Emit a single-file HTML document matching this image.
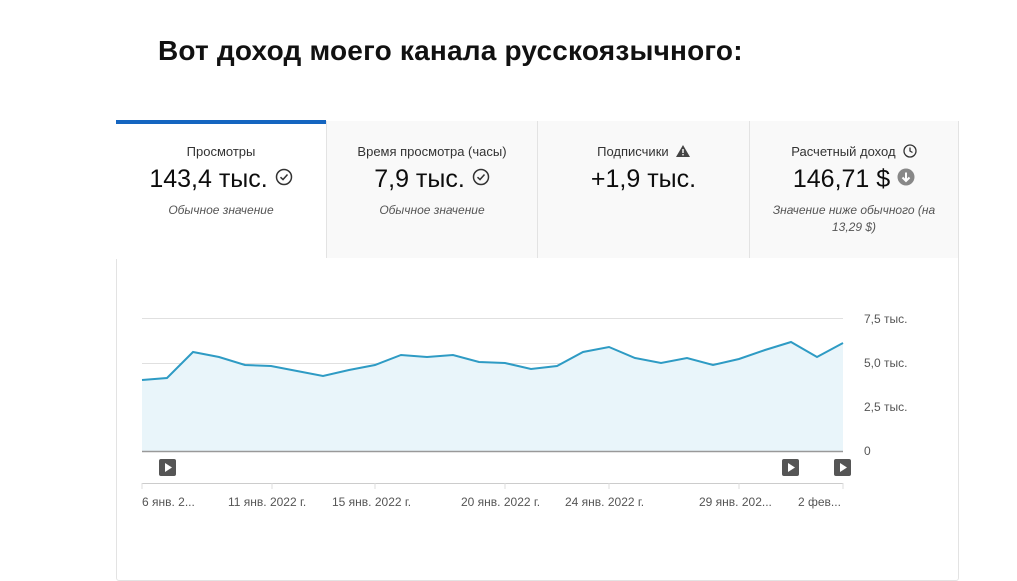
<!DOCTYPE html>
<html><head><meta charset="utf-8"><style>
body{margin:0;width:1017px;height:556px;background:#fff;font-family:"Liberation Sans",sans-serif;position:relative;overflow:hidden}
.t{position:absolute;left:158px;top:35px;font-size:28px;font-weight:bold;color:#111;letter-spacing:0.2px}
.card{position:absolute;left:116px;top:121px;width:843px;height:460px;border:1px solid #e3e3e3;border-radius:3px;box-sizing:border-box}
.tab{position:absolute;top:121px;height:137px;background:#f9f9f9;border-left:1px solid #e3e3e3;box-sizing:border-box;text-align:center;color:#0d0d0d}
.tab .l{font-size:13px;margin-top:23px;color:#333}
.tab .v{font-size:25px;margin-top:6px}
.tab .s{font-size:12px;font-style:italic;color:#555;margin-top:8px;line-height:17px}
.ic{display:inline-block;vertical-align:1px}
svg.main{position:absolute;left:0;top:0}
</style></head><body>
<div class="t">Вот доход моего канала русскоязычного:</div>
<div class="card"></div>
<div class="tab" style="left:116px;width:210px;background:#fff;border-left:none;border-top:4px solid #1565c0;top:120px;height:139px"><div class="l" style="margin-top:20px">Просмотры</div><div class="v">143,4 тыс. <svg class="ic" width="18" height="18" viewBox="0 0 18 18"><circle cx="9" cy="9" r="7.5" fill="none" stroke="#333" stroke-width="1.5"/><polyline points="5.5,9.2 8,11.5 12.5,6.5" fill="none" stroke="#333" stroke-width="1.5"/></svg></div><div class="s">Обычное значение</div></div>
<div class="tab" style="left:326px;width:211px"><div class="l">Время просмотра (часы)</div><div class="v">7,9 тыс. <svg class="ic" width="18" height="18" viewBox="0 0 18 18"><circle cx="9" cy="9" r="7.5" fill="none" stroke="#333" stroke-width="1.5"/><polyline points="5.5,9.2 8,11.5 12.5,6.5" fill="none" stroke="#333" stroke-width="1.5"/></svg></div><div class="s">Обычное значение</div></div>
<div class="tab" style="left:537px;width:212px"><div class="l">Подписчики &nbsp;<svg width="14" height="12" viewBox="0 0 14 12" style="vertical-align:-1px"><polygon points="7,0 14,12 0,12" fill="#444"/><rect x="6.3" y="4" width="1.4" height="4" fill="#fff"/><rect x="6.3" y="9" width="1.4" height="1.4" fill="#fff"/></svg></div><div class="v">+1,9 тыс.</div></div>
<div class="tab" style="left:749px;width:210px;border-right:1px solid #e3e3e3"><div class="l">Расчетный доход &nbsp;<svg width="14" height="14" viewBox="0 0 14 14" style="vertical-align:-2px"><circle cx="7" cy="7" r="6" fill="none" stroke="#333" stroke-width="1.3"/><polyline points="7,3.5 7,7 9.5,8.5" fill="none" stroke="#333" stroke-width="1.3"/></svg></div><div class="v">146,71 $ <svg class="ic" width="18" height="18" viewBox="0 0 18 18"><circle cx="9" cy="9" r="8.5" fill="#888"/><polyline points="9,4.5 9,12.5" stroke="#fff" stroke-width="2"/><polyline points="5.5,9.5 9,13 12.5,9.5" fill="none" stroke="#fff" stroke-width="2"/></svg></div><div class="s">Значение ниже обычного (на<br>13,29 $)</div></div>
<svg class="main" width="1017" height="556" font-family="Liberation Sans, sans-serif">
<g stroke="#e0e0e0" stroke-width="1"><line x1="142" y1="318.5" x2="843" y2="318.5"/><line x1="142" y1="363.5" x2="843" y2="363.5"/><line x1="142" y1="407.5" x2="843" y2="407.5"/></g>
<polygon fill="#e9f5fa" points="142,451 142,380 167,378 193,352 219,357 245,365 271,366 297,371 323,376 349,370 375,365 401,355 427,357 453,355 479,362 505,363 531,369 557,366 583,352 609,347 635,358 661,363 687,358 713,365 739,359 765,350 791,342 817,357 843,343 843,451"/>
<polyline fill="none" stroke="#2e9bc4" stroke-width="2" points="142,380 167,378 193,352 219,357 245,365 271,366 297,371 323,376 349,370 375,365 401,355 427,357 453,355 479,362 505,363 531,369 557,366 583,352 609,347 635,358 661,363 687,358 713,365 739,359 765,350 791,342 817,357 843,343"/>
<line x1="142" y1="451.5" x2="843" y2="451.5" stroke="#999" stroke-width="1.5"/>
<line x1="142" y1="483.5" x2="843" y2="483.5" stroke="#ccc"/>
<g stroke="#ddd"><line x1="142" y1="483" x2="142" y2="489"/><line x1="272" y1="483" x2="272" y2="489"/><line x1="375" y1="483" x2="375" y2="489"/><line x1="505" y1="483" x2="505" y2="489"/><line x1="609" y1="483" x2="609" y2="489"/><line x1="739" y1="483" x2="739" y2="489"/><line x1="843" y1="483" x2="843" y2="489"/></g>
<g fill="#555"><rect x="159" y="459" width="17" height="17" rx="2"/><rect x="782" y="459" width="17" height="17" rx="2"/><rect x="834" y="459" width="17" height="17" rx="2"/></g>
<g fill="#fff"><polygon points="165,463 165,472 172,467.5"/><polygon points="788,463 788,472 795,467.5"/><polygon points="840,463 840,472 847,467.5"/></g>
<g fill="#555" font-size="12"><text x="864" y="323">7,5 тыс.</text><text x="864" y="367">5,0 тыс.</text><text x="864" y="411">2,5 тыс.</text><text x="864" y="455">0</text>
<text x="142" y="506">6 янв. 2...</text><text x="228" y="506">11 янв. 2022 г.</text><text x="332" y="506">15 янв. 2022 г.</text><text x="461" y="506">20 янв. 2022 г.</text><text x="565" y="506">24 янв. 2022 г.</text><text x="699" y="506">29 янв. 202...</text><text x="798" y="506">2 фев...</text></g>
</svg>
</body></html>
